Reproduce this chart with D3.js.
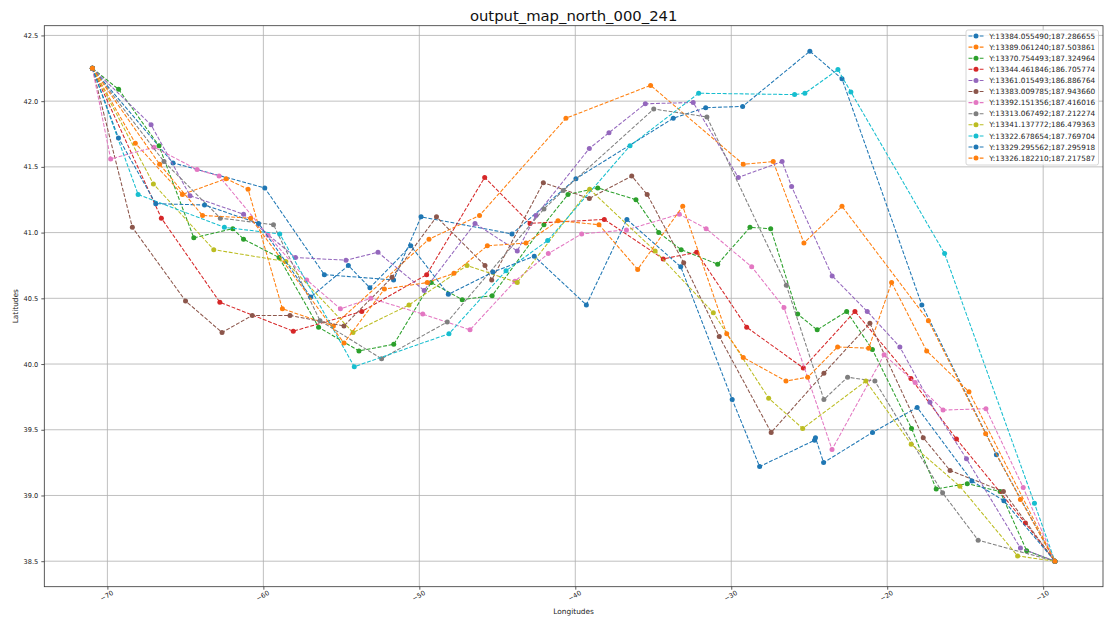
<!DOCTYPE html>
<html><head><meta charset="utf-8">
<script src="https://cdn.jsdelivr.net/npm/d3@7/dist/d3.min.js"></script>
<style>body{margin:0;background:#fff}svg{display:block}</style>
</head><body>
<svg id="c" width="1107" height="618"></svg>
<script>
const title = "output_map_north_000_241";
const xLabel = "Longitudes";
const yLabel = "Latitudes";
const seriesLabels = [
  "Y:13384.055490;187.286655","Y:13389.061240;187.503861","Y:13370.754493;187.324964",
  "Y:13344.461846;186.705774","Y:13361.015493;186.886764","Y:13383.009785;187.943660",
  "Y:13392.151356;187.416016","Y:13313.067492;187.212274","Y:13341.137772;186.479363",
  "Y:13322.678654;187.769704","Y:13329.295562;187.295918","Y:13326.182210;187.217587"
];
const xTicks = [-70,-60,-50,-40,-30,-20,-10];
const yTicks = [38.5,39.0,39.5,40.0,40.5,41.0,41.5,42.0,42.5];

const s1 = [[-70.96,42.25],[-65.79,41.53],[-59.91,41.34],[-56.09,40.68],[-51.65,40.64],[-49.89,41.12],[-44.06,40.99],[-39.96,41.41],[-33.72,41.87],[-31.64,41.95],[-29.27,41.96],[-24.96,42.38],[-22.90,42.17],[-17.78,40.45],[-13.00,39.31],[-9.25,38.5]];
const s2 = [[-70.96,42.25],[-68.21,41.68],[-65.19,41.29],[-62.39,41.41],[-60.98,41.33],[-58.78,40.42],[-55.51,40.29],[-49.38,40.95],[-46.14,41.13],[-40.60,41.87],[-35.17,42.12],[-29.23,41.52],[-27.31,41.54],[-25.34,40.92],[-22.90,41.20],[-17.36,40.33],[-13.69,39.47],[-11.46,38.97],[-9.25,38.5]];
const s3 = [[-70.96,42.25],[-69.28,42.09],[-66.69,41.66],[-64.46,40.96],[-61.96,41.03],[-61.27,40.95],[-58.99,40.81],[-56.46,40.28],[-53.87,40.10],[-51.64,40.15],[-49.24,40.62],[-47.25,40.49],[-45.33,40.52],[-42.01,41.06],[-40.47,41.29],[-38.56,41.34],[-36.11,41.25],[-34.65,41.00],[-33.21,40.87],[-30.87,40.76],[-28.80,41.04],[-27.47,41.03],[-25.74,40.38],[-24.49,40.26],[-22.60,40.40],[-20.95,40.11],[-18.44,39.51],[-16.86,39.05],[-14.87,39.09],[-12.76,39.03],[-11.06,38.58],[-9.25,38.5]];
const s4 = [[-70.96,42.25],[-66.54,41.11],[-62.79,40.47],[-58.08,40.25],[-53.69,40.40],[-49.53,40.68],[-45.81,41.42],[-42.90,41.07],[-38.14,41.10],[-34.36,40.80],[-32.22,40.85],[-29.01,40.28],[-25.38,39.97],[-22.07,40.40],[-18.48,39.89],[-15.56,39.43],[-11.14,38.79],[-9.25,38.5]];
const s5 = [[-70.96,42.25],[-67.20,41.82],[-64.70,41.28],[-61.27,41.14],[-57.94,40.81],[-54.70,40.79],[-52.65,40.85],[-49.69,40.56],[-46.43,41.07],[-43.72,40.86],[-42.52,41.13],[-39.10,41.64],[-37.84,41.76],[-35.51,41.98],[-32.44,41.99],[-29.55,41.42],[-26.74,41.54],[-26.13,41.35],[-23.53,40.67],[-21.28,40.40],[-19.19,40.13],[-17.26,39.71],[-14.92,39.28],[-11.46,38.60],[-9.25,38.5]];
const s6 = [[-70.96,42.25],[-68.40,41.04],[-64.99,40.48],[-62.65,40.24],[-60.71,40.37],[-58.29,40.37],[-54.83,40.29],[-51.75,40.66],[-48.90,41.12],[-45.79,40.75],[-45.36,40.64],[-42.05,41.38],[-39.10,41.26],[-36.38,41.43],[-35.39,41.29],[-33.05,40.77],[-30.77,40.21],[-27.44,39.48],[-24.06,39.93],[-21.11,40.31],[-17.69,39.44],[-15.97,39.19],[-12.55,39.03],[-9.25,38.5]];
const s7 = [[-70.96,42.25],[-69.79,41.56],[-67.01,41.65],[-64.25,41.48],[-62.84,41.43],[-59.70,40.98],[-57.22,40.64],[-55.06,40.42],[-53.11,40.50],[-49.78,40.38],[-46.75,40.26],[-43.87,40.63],[-41.73,40.84],[-39.59,40.99],[-36.72,41.02],[-33.33,41.14],[-31.61,41.03],[-28.69,40.74],[-26.62,40.43],[-23.54,39.35],[-20.20,40.07],[-18.21,39.86],[-16.42,39.65],[-13.67,39.66],[-11.28,39.06],[-9.25,38.5]];
const s8 = [[-70.96,42.25],[-66.37,41.54],[-62.76,41.11],[-59.35,41.06],[-56.37,40.33],[-52.42,40.04],[-48.21,40.32],[-42.01,41.18],[-40.77,41.32],[-34.97,41.94],[-31.56,41.88],[-26.47,40.60],[-24.06,39.73],[-22.54,39.90],[-20.79,39.87],[-16.45,39.02],[-14.17,38.66],[-9.25,38.5]];
const s9 = [[-70.96,42.25],[-67.05,41.37],[-63.18,40.87],[-58.56,40.78],[-54.25,40.24],[-50.66,40.45],[-46.94,40.75],[-43.72,40.62],[-39.08,41.33],[-34.88,40.86],[-31.15,40.39],[-27.60,39.74],[-25.42,39.51],[-21.37,39.87],[-18.46,39.39],[-15.34,39.07],[-11.64,38.54],[-9.25,38.5]];
const s10 = [[-70.96,42.25],[-68.03,41.29],[-62.50,41.04],[-58.95,40.99],[-54.17,39.98],[-48.10,40.23],[-44.44,40.71],[-41.77,40.94],[-36.49,41.66],[-32.09,42.06],[-25.94,42.05],[-25.28,42.06],[-23.16,42.24],[-22.33,42.07],[-16.32,40.84],[-10.56,38.94],[-9.25,38.5]];
const s11 = [[-70.96,42.25],[-69.29,41.72],[-66.90,41.22],[-63.77,41.21],[-60.31,41.07],[-56.96,40.51],[-54.55,40.75],[-53.17,40.58],[-50.55,40.90],[-48.14,40.53],[-45.28,40.70],[-42.63,40.82],[-39.29,40.45],[-36.69,41.10],[-33.24,40.74],[-29.94,39.73],[-28.18,39.22],[-24.66,39.42],[-24.60,39.44],[-24.08,39.25],[-20.94,39.48],[-18.08,39.67],[-14.57,39.11],[-12.52,38.96],[-9.25,38.5]];
const s12 = [[-70.96,42.25],[-66.65,41.52],[-63.90,41.13],[-60.81,41.11],[-54.83,40.16],[-52.24,40.57],[-49.49,40.62],[-47.78,40.69],[-45.64,40.90],[-43.16,40.92],[-41.11,41.09],[-38.48,41.06],[-36.00,40.72],[-33.11,41.20],[-30.29,40.23],[-29.23,40.05],[-26.49,39.87],[-25.10,39.90],[-23.18,40.13],[-21.19,40.12],[-19.72,40.62],[-17.47,40.10],[-14.76,39.79],[-9.25,38.5]];
const allSeries = [s1,s2,s3,s4,s5,s6,s7,s8,s9,s10,s11,s12];
const colors = ["#1f77b4","#ff7f0e","#2ca02c","#d62728","#9467bd","#8c564b","#e377c2","#7f7f7f","#bcbd22","#17becf","#1f77b4","#ff7f0e"];

const W = 1107, H = 618;
const m = {left: 44.3, right: 1103, top: 25.7, bottom: 586.7};
const font = "'DejaVu Sans', sans-serif";
const svg = d3.select("#c");

const allPts = allSeries.flat();
const xe = d3.extent(allPts, d => d[0]);
const ye = d3.extent(allPts, d => d[1]);
const xp = (xe[1]-xe[0])*0.05, yp = (ye[1]-ye[0])*0.05;
const x = d3.scaleLinear().domain([xe[0]-xp, xe[1]+xp]).range([m.left, m.right]);
const y = d3.scaleLinear().domain([ye[0]-yp, ye[1]+yp]).range([m.bottom, m.top]);

// grid
const g = svg.append("g");
g.selectAll(".gx").data(xTicks).join("line")
  .attr("x1", d => x(d)).attr("x2", d => x(d)).attr("y1", m.top).attr("y2", m.bottom)
  .attr("stroke", "#b0b0b0").attr("stroke-width", 0.8);
g.selectAll(".gy").data(yTicks).join("line")
  .attr("y1", d => y(d)).attr("y2", d => y(d)).attr("x1", m.left).attr("x2", m.right)
  .attr("stroke", "#b0b0b0").attr("stroke-width", 0.8);

// axes
const xAxis = d3.axisBottom(x).tickValues(xTicks).tickSize(3).tickPadding(3)
  .tickFormat(d => (d < 0 ? "\u2212" : "") + Math.abs(d));
const xg = svg.append("g").attr("transform", `translate(0,${m.bottom})`).call(xAxis);
xg.select(".domain").remove();
xg.selectAll("line").attr("stroke", "#333").attr("stroke-width", 0.8);
xg.selectAll("text").attr("font-family", font).attr("font-size", 6.6).attr("fill", "#222")
  .attr("text-anchor", "middle").attr("dy", null).attr("y", null)
  .attr("transform", "translate(0,11) rotate(-30)");

const yAxis = d3.axisLeft(y).tickValues(yTicks).tickSize(3).tickPadding(3).tickFormat(d3.format(".1f"));
const yg = svg.append("g").attr("transform", `translate(${m.left},0)`).call(yAxis);
yg.select(".domain").remove();
yg.selectAll("line").attr("stroke", "#333").attr("stroke-width", 0.8);
yg.selectAll("text").attr("font-family", font).attr("font-size", 6.6).attr("fill", "#222");

// series
const line = d3.line().x(d => x(d[0])).y(d => y(d[1]));
allSeries.forEach((s, i) => {
  const sg = svg.append("g");
  sg.append("path").datum(s).attr("d", line).attr("fill", "none")
    .attr("stroke", colors[i]).attr("stroke-width", 1.05).attr("stroke-dasharray", "3.9,1.7");
  sg.selectAll("circle").data(s).join("circle")
    .attr("cx", d => x(d[0])).attr("cy", d => y(d[1])).attr("r", 2.5).attr("fill", colors[i]);
});

// frame
svg.append("rect").attr("x", m.left).attr("y", m.top).attr("width", m.right - m.left)
  .attr("height", m.bottom - m.top).attr("fill", "none").attr("stroke", "#333").attr("stroke-width", 0.8);

// title & labels
svg.append("text").attr("x", (m.left + m.right)/2).attr("y", 21).attr("text-anchor", "middle")
  .attr("font-family", font).attr("font-size", 14.8).attr("fill", "#111").text(title);
svg.append("text").attr("x", (m.left + m.right)/2).attr("y", 614).attr("text-anchor", "middle")
  .attr("font-family", font).attr("font-size", 7.4).attr("fill", "#222").text(xLabel);
svg.append("text").attr("transform", `translate(18,${(m.top + m.bottom)/2}) rotate(-90)`)
  .attr("text-anchor", "middle").attr("font-family", font).attr("font-size", 7.4).attr("fill", "#222").text(yLabel);

// legend
const lg = svg.append("g");
const lx = 966, ly = 30, lw = 132.5, rowH = 11.1;
lg.append("rect").attr("x", lx).attr("y", ly).attr("width", lw).attr("height", 135)
  .attr("rx", 2).attr("fill", "#fff").attr("fill-opacity", 0.8).attr("stroke", "#cccccc").attr("stroke-width", 0.8);
seriesLabels.forEach((lab, i) => {
  const cy = 36 + i * rowH;
  lg.append("line").attr("x1", 968.5).attr("x2", 983.5).attr("y1", cy).attr("y2", cy)
    .attr("stroke", colors[i]).attr("stroke-width", 1.05).attr("stroke-dasharray", "3.9,1.7");
  lg.append("circle").attr("cx", 976).attr("cy", cy).attr("r", 2.5).attr("fill", colors[i]);
  lg.append("text").attr("x", 989.3).attr("y", cy + 2.6).attr("font-family", font)
    .attr("font-size", 7.3).attr("fill", "#222").text(lab);
});
</script>
</body></html>
